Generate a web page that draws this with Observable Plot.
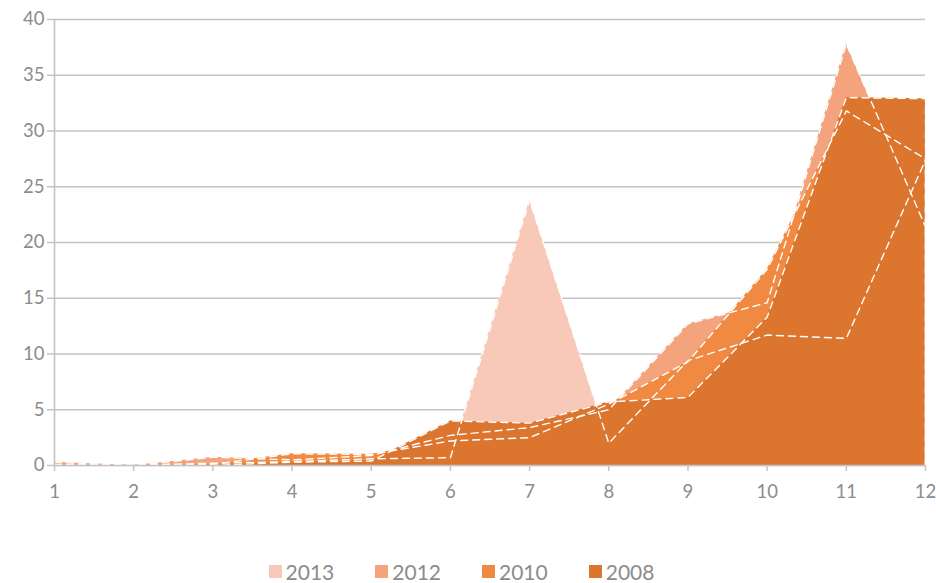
<!DOCTYPE html>
<html>
<head>
<meta charset="utf-8">
<script src="https://cdn.jsdelivr.net/npm/d3@7"></script>
<script src="https://cdn.jsdelivr.net/npm/@observablehq/plot@0.6"></script>
<style>
  html, body { margin: 0; padding: 0; background: #fff; }
  #chart { width: 936px; height: 583px; position: relative; font-family: Lato, "Open Sans", sans-serif; }
  #legend { position: absolute; top: 561px; left: 0; width: 936px; display: flex; justify-content: center; gap: 41px; padding-right: 13px; box-sizing: border-box; font-family: Lato, sans-serif; font-size: 21px; color: #8c8c8c; line-height: 21px; }
  .item { display: flex; align-items: center; gap: 4px; }
  .sw { width: 13px; height: 13px; display: inline-block; }
</style>
</head>
<body>
<div id="chart"></div>
<script>
const months = [1, 2, 3, 4, 5, 6, 7, 8, 9, 10, 11, 12];
const yTicks = [0, 5, 10, 15, 20, 25, 30, 35, 40];
const seriesNames = ["2013", "2012", "2010", "2008"];
const colors = ["#F8C8B8", "#F4A47C", "#F08A42", "#DC762F"];
const v2013 = [0.1, 0.05, 0.2, 0.35, 0.6, 0.7, 23.8, 2.0, 9.4, 11.7, 11.4, 27.4];
const v2012 = [0.3, 0.0, 0.75, 0.5, 0.9, 2.7, 3.4, 5.0, 12.7, 14.6, 37.8, 21.4];
const v2010 = [0.0, 0.0, 0.1, 1.05, 1.0, 2.2, 2.5, 5.5, 9.3, 17.6, 31.8, 27.5];
const v2008 = [0.0, 0.0, 0.0, 0.3, 0.4, 4.0, 3.8, 5.7, 6.1, 13.3, 33.0, 32.9];

const valuesBy = {"2013": v2013, "2012": v2012, "2010": v2010, "2008": v2008};
const colorBy = Object.fromEntries(seriesNames.map((s, i) => [s, colors[i]]));

const rows = seriesNames.flatMap(s => months.map((m, i) => ({series: s, m, v: valuesBy[s][i]})));
// outline: top edge followed by the right side down to the baseline
const outline = seriesNames.flatMap(s => [
  ...months.map((m, i) => ({series: s, m, v: valuesBy[s][i]})),
  {series: s, m: months[months.length - 1], v: 0}
]);

const gray = "#8c8c8c";
const plot = Plot.plot({
  width: 936,
  height: 520,
  marginLeft: 54,
  marginRight: 11,
  marginTop: 19,
  marginBottom: 55,
  style: {fontFamily: "Lato, sans-serif", fontSize: "18px", color: gray, background: "#fff"},
  x: {domain: [1, 12], label: null},
  y: {domain: [0, 40], label: null},
  marks: [
    Plot.gridY(yTicks, {stroke: "#c4c4c4", strokeOpacity: 1, strokeWidth: 1.6}),
    ...seriesNames.map(s => Plot.areaY(rows.filter(d => d.series === s), {x: "m", y: "v", fill: colorBy[s]})),
    Plot.line(outline, {x: "m", y: "v", z: "series", stroke: "white", strokeWidth: 1.4, strokeDasharray: "7,5"}),
    Plot.ruleY([0], {stroke: "#c4c4c4", strokeWidth: 1.6}),
    Plot.ruleX([1], {stroke: "#c4c4c4", strokeWidth: 1.6}),
    Plot.axisX(months, {label: null, tickSize: 6, tickPadding: 13, stroke: "#c4c4c4", strokeWidth: 1.5, fill: gray, fontSize: 18.5, tickFormat: d => String(d)}),
    Plot.axisY(yTicks, {label: null, tickSize: 7, tickPadding: 3, stroke: "#c4c4c4", strokeWidth: 1.5, fill: gray, fontSize: 18.5, tickFormat: d => String(d)})
  ]
});
const chart = document.getElementById("chart");
chart.appendChild(plot);

const legend = document.createElement("div");
legend.id = "legend";
seriesNames.forEach((s, i) => {
  const item = document.createElement("div");
  item.className = "item";
  const sw = document.createElement("span");
  sw.className = "sw";
  sw.style.background = colors[i];
  const t = document.createElement("span");
  t.textContent = s;
  item.appendChild(sw);
  item.appendChild(t);
  legend.appendChild(item);
});
chart.appendChild(legend);
</script>
</body>
</html>
